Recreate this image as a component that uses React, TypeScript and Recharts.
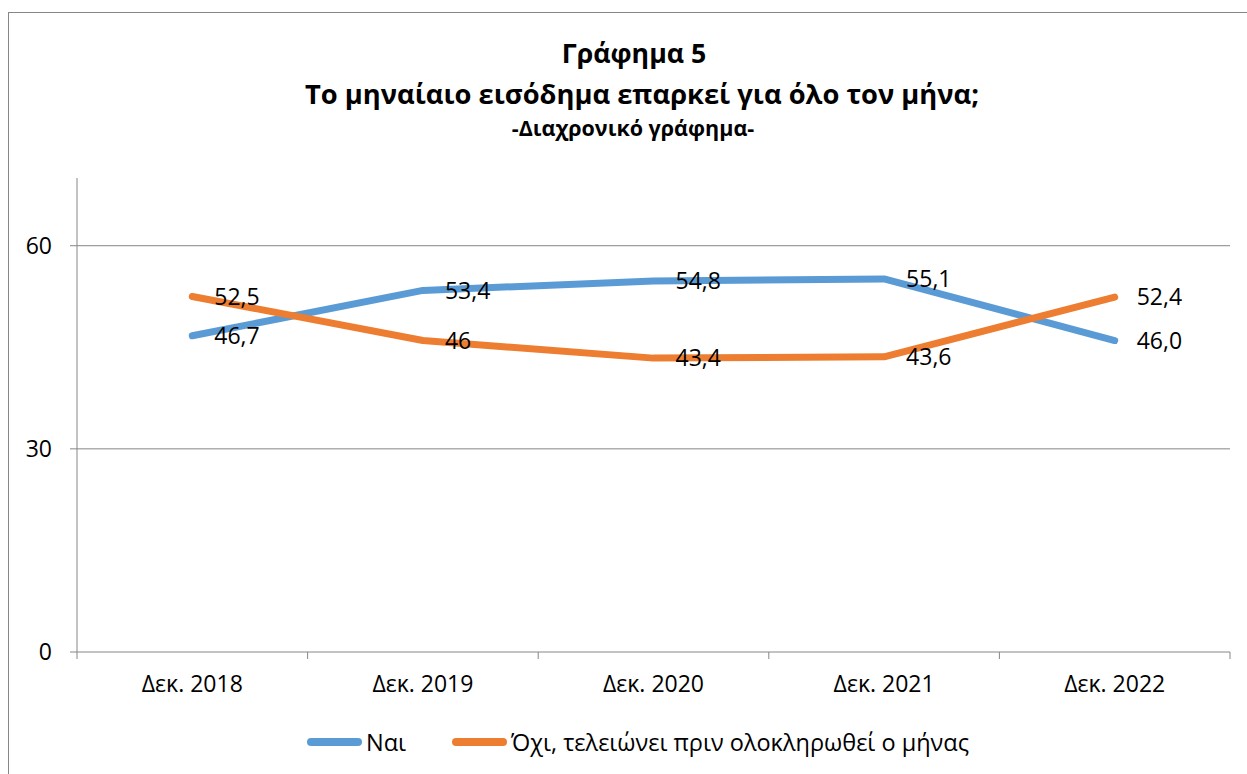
import React from 'react';
import {
  LabelList,
  Legend,
  Line,
  LineChart,
  ReferenceLine,
  XAxis,
  YAxis,
} from 'recharts';

const categories = ['Δεκ. 2018', 'Δεκ. 2019', 'Δεκ. 2020', 'Δεκ. 2021', 'Δεκ. 2022'];
const yesValues = [46.7, 53.4, 54.8, 55.1, 46.0];
const noValues = [52.5, 46, 43.4, 43.6, 52.4];
const yTicks = [0, 30, 60];
const seriesNames = ['Ναι', 'Όχι, τελειώνει πριν ολοκληρωθεί ο μήνας'];
const titleLines = ['Γράφημα 5', 'Το μηναίαιο εισόδημα επαρκεί για όλο τον μήνα;', '-Διαχρονικό γράφημα-'];

const data = categories.map((name, i) => ({ name, yes: yesValues[i], no: noValues[i] }));

const W = 1247;
const H = 774;
const FONT = '"Open Sans", "Noto Sans", sans-serif';
const margin = { top: 178, right: 17, bottom: 17, left: 0 };
const yAxisWidth = 77;
const plotWidth = W - margin.left - margin.right - yAxisWidth;
const bandWidth = plotWidth / categories.length;
const axisColor = '#868686';
const blue = '#5B9BD5';
const orange = '#ED7D31';

const comma = (v: number) => String(v).replace('.', ',');
const commaFixed = (v: number) => v.toFixed(1).replace('.', ',');

// category label plus boundary tick marks (Excel style, between categories)
function XTick(props: any) {
  const { x, y, payload, index } = props;
  const last = index === categories.length - 1;
  return (
    <g>
      <line x1={x - bandWidth / 2} x2={x - bandWidth / 2} y1={y} y2={y + 7} stroke={axisColor} />
      {last && <line x1={x + bandWidth / 2} x2={x + bandWidth / 2} y1={y} y2={y + 7} stroke={axisColor} />}
      <text x={x} y={y + 34} textAnchor="middle" dominantBaseline="middle" fontSize={23} fontFamily={FONT} fill="#000">
        {payload.value}
      </text>
    </g>
  );
}

function LegendContent() {
  const items = [
    { name: seriesNames[0], color: blue, left: 300 },
    { name: seriesNames[1], color: orange, left: 445 },
  ];
  return (
    <div style={{ position: 'relative', height: 30, fontFamily: FONT, fontSize: 23.5, color: '#000' }}>
      {items.map((it) => (
        <div key={it.name} style={{ position: 'absolute', left: it.left, top: 0, height: 30, display: 'flex', alignItems: 'center', whiteSpace: 'nowrap' }}>
          <svg width={66} height={12}>
            <line x1={11} x2={58} y1={6} y2={6} stroke={it.color} strokeWidth={8} strokeLinecap="round" />
          </svg>
          <span>{it.name}</span>
        </div>
      ))}
    </div>
  );
}

export default function App() {
  return (
    <div style={{ position: 'fixed', left: 0, top: 0, width: W, height: H, background: '#fff', overflow: 'hidden' }}>
      <div style={{ position: 'absolute', left: 8, top: 12, width: W, height: H, borderTop: `1px solid ${axisColor}`, borderLeft: `1px solid ${axisColor}` }} />
      <svg style={{ position: 'absolute', left: 0, top: 0 }} width={W} height={150}>
        <g fontFamily={FONT} fontWeight={700} fill="#000" textAnchor="middle">
          <text x={634} y={63} fontSize={26.7}>{titleLines[0]}</text>
          <text x={642} y={104} fontSize={27.3}>{titleLines[1]}</text>
          <text x={633} y={136} fontSize={21.5}>{titleLines[2]}</text>
        </g>
      </svg>
      <div style={{ position: 'absolute', left: 0, top: 0 }}>
        <LineChart width={W} height={H} data={data} margin={margin} accessibilityLayer={false}>
          {yTicks.filter((t) => t > 0).map((t) => (
            <ReferenceLine key={t} y={t} stroke={axisColor} strokeWidth={1} />
          ))}
          <XAxis
            dataKey="name"
            scale="band"
            height={75}
            tickLine={false}
            tickSize={0}
            tickMargin={0}
            axisLine={{ stroke: axisColor }}
            tick={<XTick />}
            interval={0}
          />
          <YAxis
            width={yAxisWidth}
            domain={[0, 70]}
            ticks={yTicks}
            tickSize={7}
            tickMargin={18}
            axisLine={{ stroke: axisColor }}
            tickLine={{ stroke: axisColor }}
            tick={{ fontSize: 23, fontFamily: FONT, fill: '#000' }}
          />
          <Legend verticalAlign="bottom" wrapperStyle={{ left: 0, width: W }} content={<LegendContent />} />
          <Line
            dataKey="yes"
            name={seriesNames[0]}
            stroke={blue}
            strokeWidth={7}
            strokeLinecap="round"
            strokeLinejoin="round"
            dot={false}
            activeDot={false}
            isAnimationActive={false}
          >
            <LabelList dataKey="yes" position="right" offset={22} formatter={(v: any) => commaFixed(Number(v))} fontSize={23} fontFamily={FONT} fill="#000" />
          </Line>
          <Line
            dataKey="no"
            name={seriesNames[1]}
            stroke={orange}
            strokeWidth={7}
            strokeLinecap="round"
            strokeLinejoin="round"
            dot={false}
            activeDot={false}
            isAnimationActive={false}
          >
            <LabelList dataKey="no" position="right" offset={22} formatter={(v: any) => comma(Number(v))} fontSize={23} fontFamily={FONT} fill="#000" />
          </Line>
        </LineChart>
      </div>
    </div>
  );
}
